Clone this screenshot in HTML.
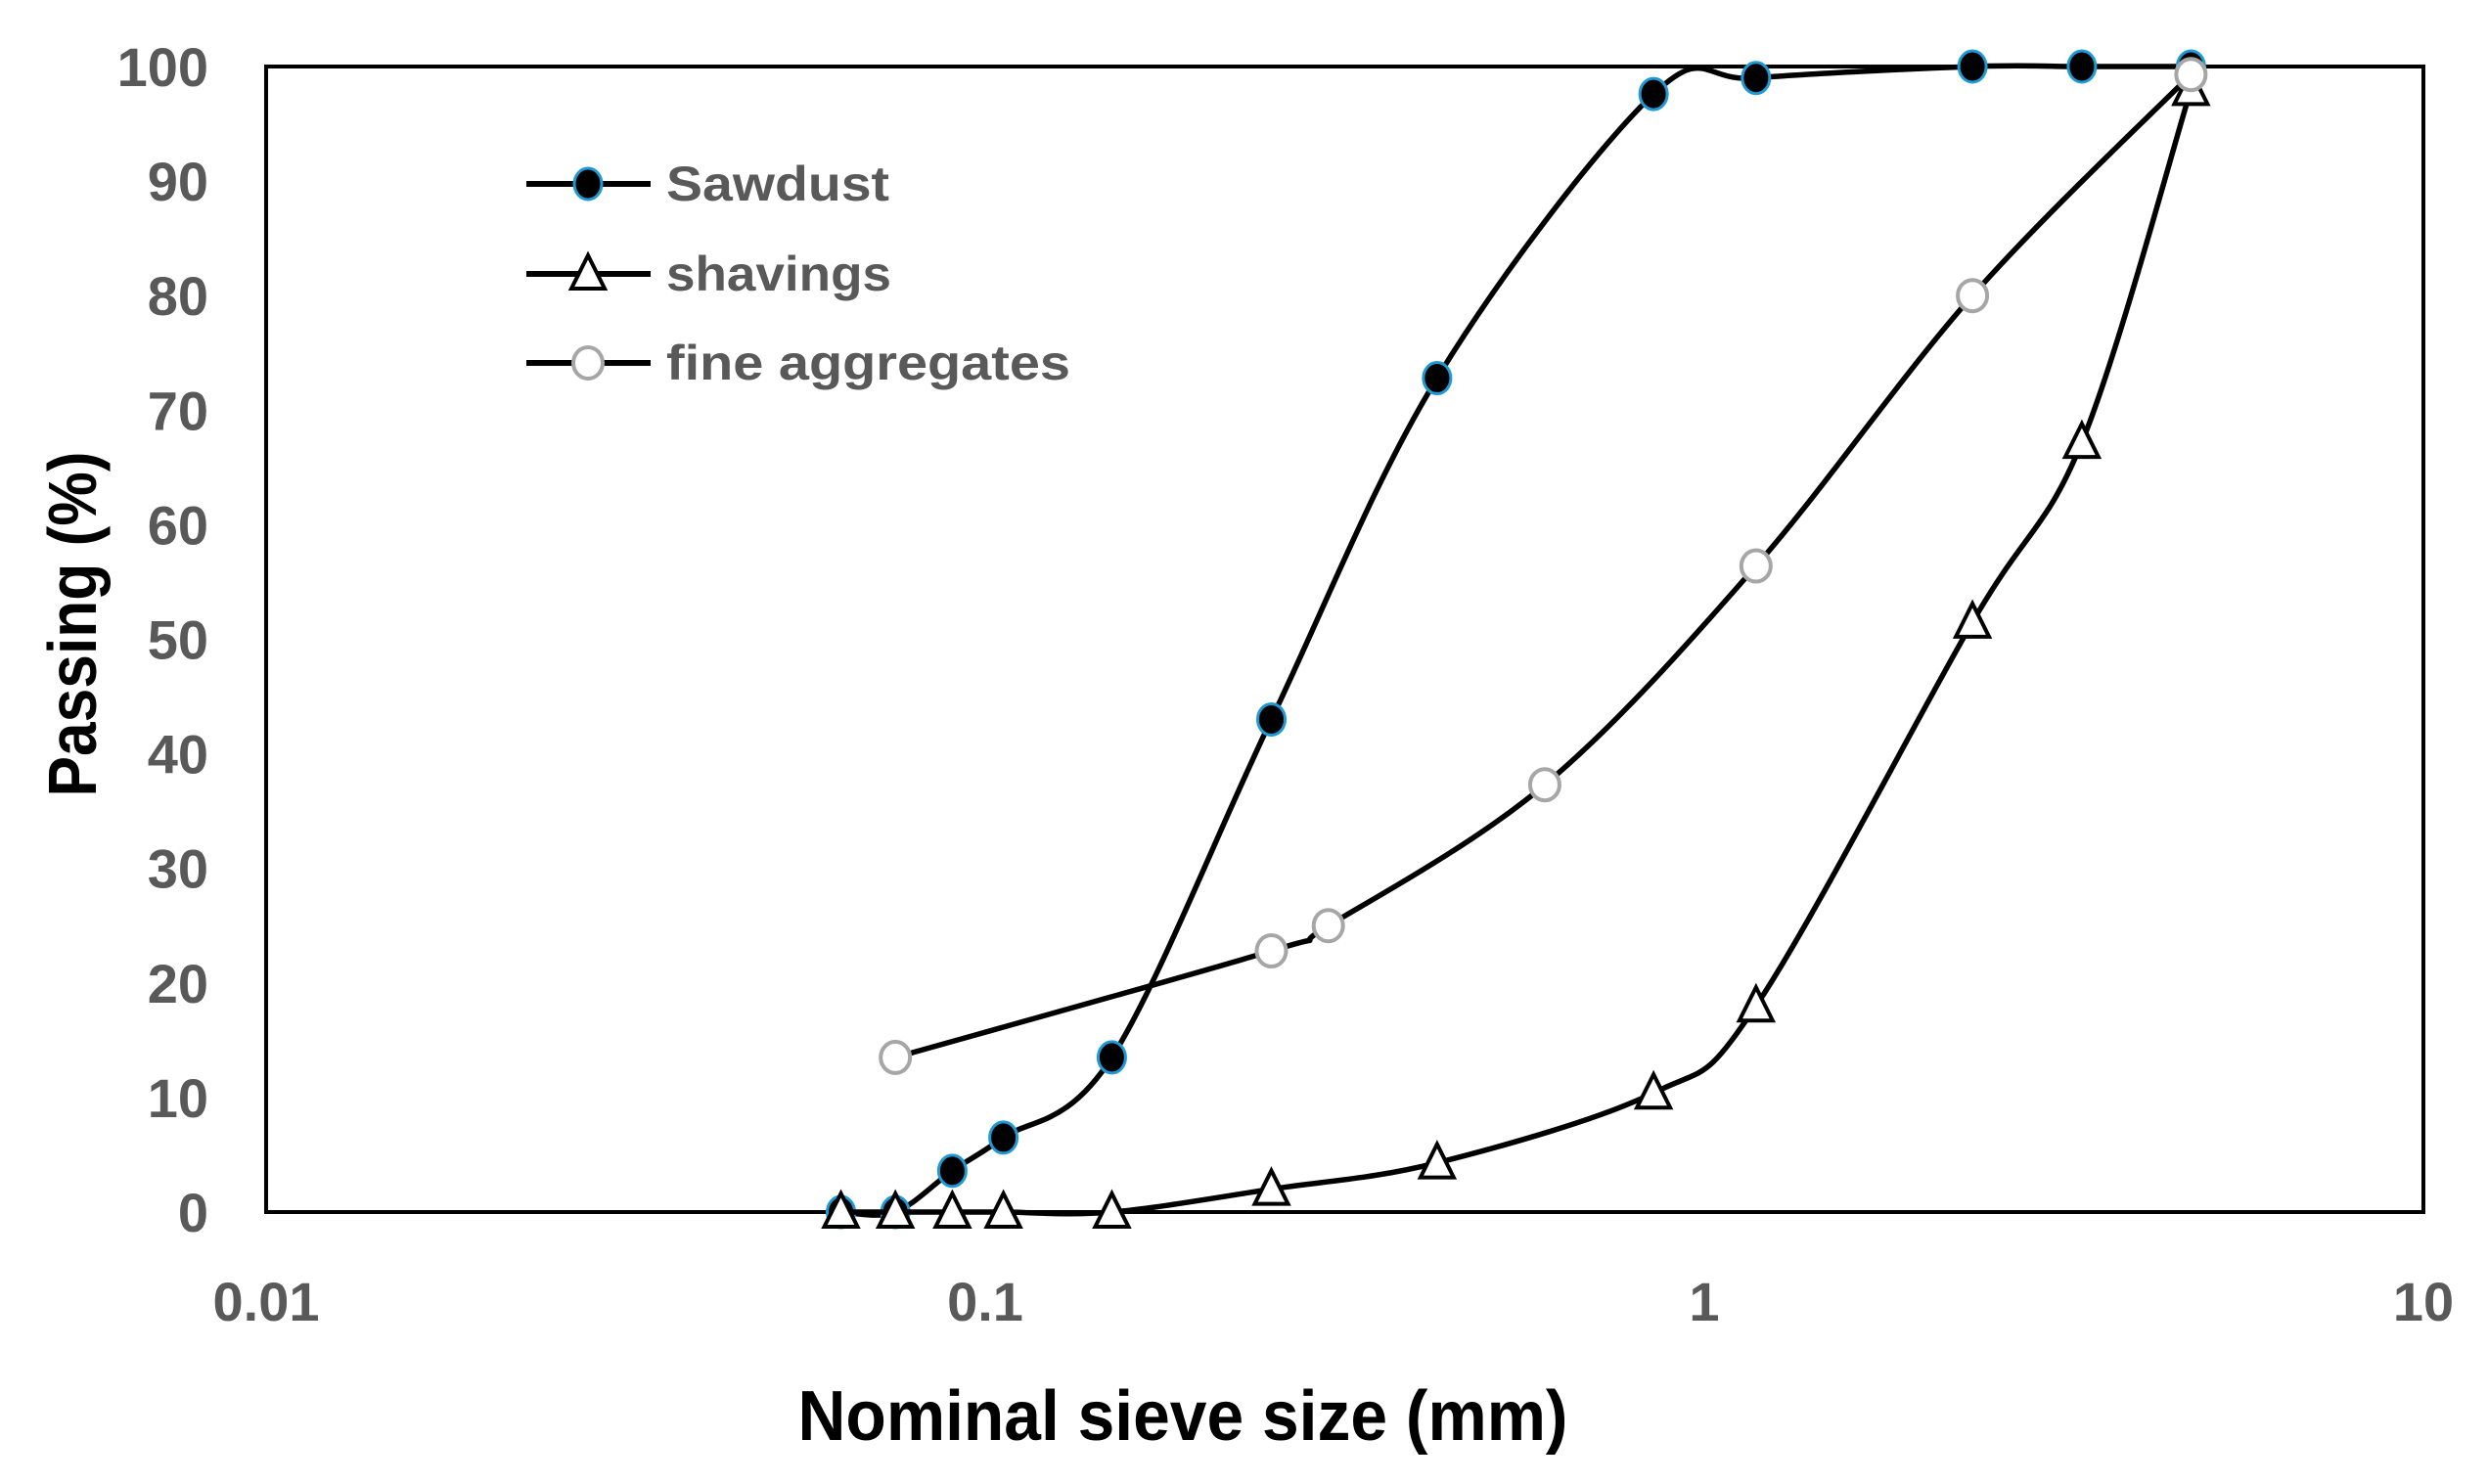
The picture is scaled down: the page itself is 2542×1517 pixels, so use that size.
<!DOCTYPE html>
<html><head><meta charset="utf-8"><style>
html,body{margin:0;padding:0;background:#fff;}
svg{display:block;}
text{font-family:"Liberation Sans",sans-serif;font-weight:bold;}
</style></head><body>
<svg id="chart" width="2542" height="1517" viewBox="0 0 2542 1517" xmlns="http://www.w3.org/2000/svg">
<rect x="272" y="68" width="2205" height="1171" fill="#fff" stroke="#000" stroke-width="4"/>
<g id="yticks"></g>
<g id="xticks"></g>
<g id="series"></g>
<g id="legend"></g>
<text x="1209" y="1472" font-size="72" text-anchor="middle" textLength="787" lengthAdjust="spacingAndGlyphs" fill="#000">Nominal  sieve size (mm)</text>
<text transform="translate(98,638) rotate(-90)" font-size="70" text-anchor="middle" textLength="353" lengthAdjust="spacingAndGlyphs" fill="#000">Passing (%)</text>
</svg>
<script>
const yTicks=[0,10,20,30,40,50,60,70,80,90,100];
const xTicks=[0.01,0.1,1,10];
const xTickLabels=["0.01","0.1","1","10"];
const sawdustX=[0.063,0.075,0.09,0.106,0.15,0.25,0.425,0.85,1.18,2.36,3.35,4.75];
const sawdustY=[0,0,3.6,6.5,13.5,43,72.8,97.6,99,100,100,100];
const shavingsX=[0.063,0.075,0.09,0.106,0.15,0.25,0.425,0.85,1.18,2.36,3.35,4.75];
const shavingsY=[0,0,0,0,0,2,4.3,10.4,18,51.5,67.2,98];
const fineX=[0.075,0.25,0.3,0.6,1.18,2.36,4.75];
const fineY=[13.5,22.8,25,37.3,56.4,80,99.3];
const seriesNames=["Sawdust","shavings","fine aggregates"];

const L=272,R=2477,T=68,B=1239;
const NS="http://www.w3.org/2000/svg";
function xs(v){return L+(Math.log10(v)+2)/3*(R-L);}
function ys(v){return B-v/100*(B-T);}
function mk(tag,attrs,parent){const e=document.createElementNS(NS,tag);for(const k in attrs)e.setAttribute(k,attrs[k]);parent.appendChild(e);return e;}
const yg=document.getElementById('yticks'),xg=document.getElementById('xticks'),sg=document.getElementById('series'),lg=document.getElementById('legend');
yTicks.forEach(v=>{const t=mk('text',{x:213,y:ys(v)+20,'font-size':56,'text-anchor':'end',fill:'#595959'},yg);t.textContent=v;

});
xTicks.forEach((v,i)=>{const t=mk('text',{x:xs(v),y:1350,'font-size':56,'text-anchor':'middle',fill:'#595959'},xg);t.textContent=xTickLabels[i];

});

function smoothPath(pts){
 let d='M'+pts[0][0]+','+pts[0][1];
 for(let i=0;i<pts.length-1;i++){
  const p0=pts[i-1]||pts[i],p1=pts[i],p2=pts[i+1],p3=pts[i+2]||pts[i+1];
  const c1=[p1[0]+(p2[0]-p0[0])/6,p1[1]+(p2[1]-p0[1])/6];
  const c2=[p2[0]-(p3[0]-p1[0])/6,p2[1]-(p3[1]-p1[1])/6];
  d+=' C'+c1[0]+','+c1[1]+' '+c2[0]+','+c2[1]+' '+p2[0]+','+p2[1];
 }
 return d;
}
function marker(type,cx,cy,g){
 let m;
 if(type==='dot'){m=mk('ellipse',{cx:cx,cy:cy,rx:14,ry:16,fill:'#000',stroke:'#1e9ad6','stroke-width':3},g);}
 else if(type==='ring'){m=mk('ellipse',{cx:cx,cy:cy,rx:15,ry:16,fill:'#fff',stroke:'#a6a6a6','stroke-width':4},g);}
 else {const h=30,w=34;m=mk('polygon',{points:(cx)+','+(cy-h/2-4)+' '+(cx-w/2)+','+(cy+h/2)+' '+(cx+w/2)+','+(cy+h/2),fill:'#fff',stroke:'#000','stroke-width':4,'stroke-linejoin':'miter'},g);}
 return m;
}
function drawSeries(X,Y,type,name){
 const g=mk('g',{},sg);
 
 
 const pts=X.map((x,i)=>[xs(x),ys(Y[i])]);
 const p=mk('path',{d:smoothPath(pts),fill:'none',stroke:'#000','stroke-width':5.5,'stroke-linejoin':'round'},g);
 
 
 pts.forEach(q=>{const m=marker(type,q[0],q[1],g);
  
  });
}
drawSeries(sawdustX,sawdustY,'dot','sawdust');
drawSeries(shavingsX,shavingsY,'tri','shavings');
drawSeries(fineX,fineY,'ring','fine-aggregates');

const types=['dot','tri','ring'],rows=[188,280,371];
seriesNames.forEach((n,i)=>{
 const g=mk('g',{},lg);
 
 
 mk('line',{x1:538,x2:665,y1:rows[i],y2:rows[i],stroke:'#000','stroke-width':6},g);
 marker(types[i],601,rows[i],g);
 const t=mk('text',{x:681,y:rows[i]+17,'font-size':50,fill:'#595959'},g);
 t.textContent=n;
 
 
 if(i===2){t.setAttribute('textLength',413);t.setAttribute('lengthAdjust','spacingAndGlyphs');}
 if(i===0){t.setAttribute('textLength',228);t.setAttribute('lengthAdjust','spacingAndGlyphs');}
 if(i===1){t.setAttribute('textLength',230);t.setAttribute('lengthAdjust','spacingAndGlyphs');}
});
</script>
</body></html>
